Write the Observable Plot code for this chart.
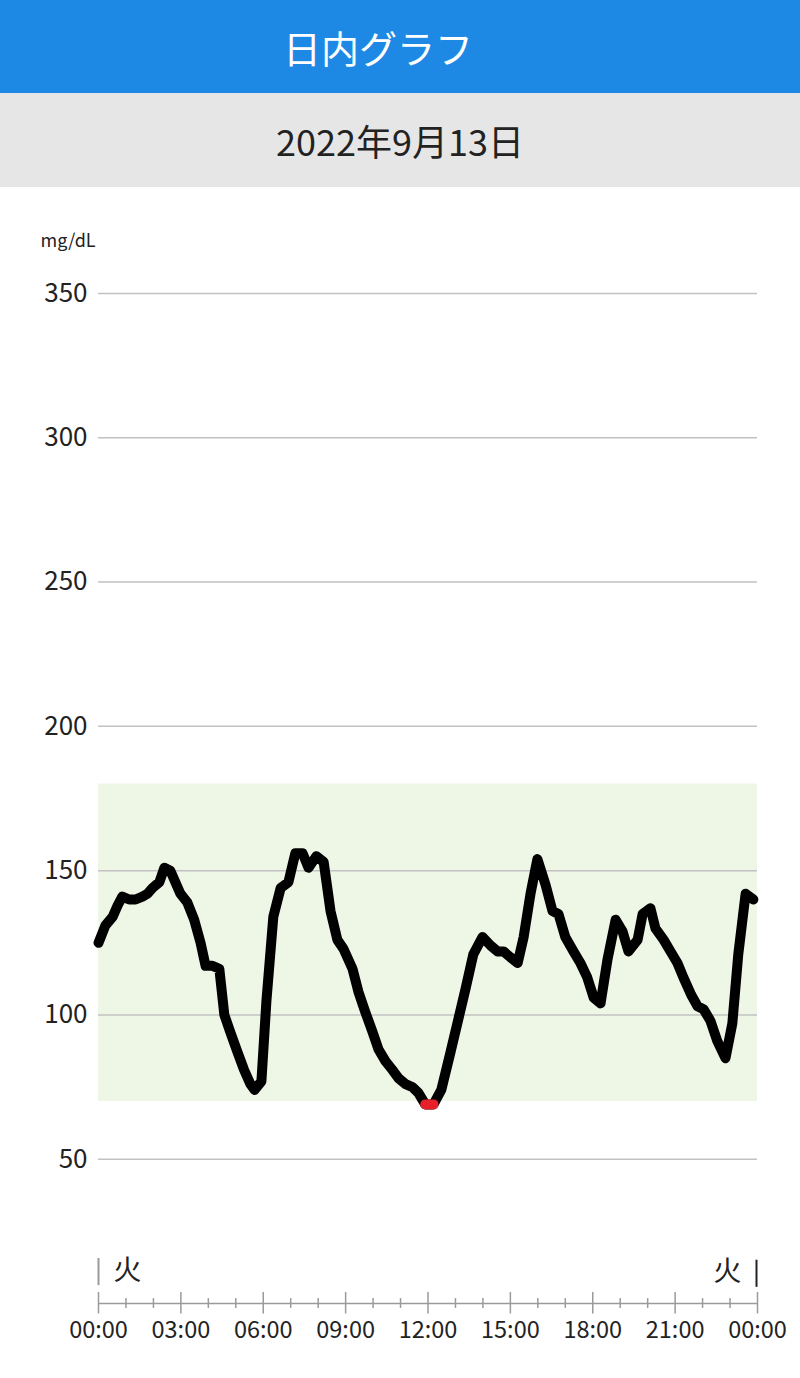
<!DOCTYPE html>
<html><head><meta charset="utf-8">
<script src="https://cdn.jsdelivr.net/npm/d3@7"></script>
<script src="https://cdn.jsdelivr.net/npm/@observablehq/plot@0.6"></script>
<style>
body{margin:0;width:800px;font-family:"Noto Sans CJK JP","Noto Sans",sans-serif;background:#fff}
.hdr{height:93px;background:#1e88e5;color:#fff;font-size:38px;display:flex;align-items:center;justify-content:center;padding-right:44px;box-sizing:border-box}
.sub{height:94px;background:#e6e6e6;color:#222;font-size:36px;display:flex;align-items:center;justify-content:center}
#chart svg{display:block}
</style></head><body>
<div class="hdr">日内グラフ</div>
<div class="sub">2022年9月13日</div>
<div id="chart"></div>
<script>
const title = "日内グラフ";
const dateLabel = "2022年9月13日";
const unitLabel = "mg/dL";
const dayLabel = "火";
// reading times (minutes after midnight)
const minutes = [0,15,31,42,52,67,81,96,107,118,
133,144,157,168,179,194,209,223,234,249,
264,275,288,304,318,332,341,356,367,382,
398,415,430,446,459,476,492,507,522,535,
555,568,583,599,612,627,642,656,671,686,
699,714,732,749,769,787,802,819,839,857,
872,885,900,916,929,944,959,977,992,1005,
1020,1038,1053,1068,1082,1097,1112,1130,1145,1158,
1178,1189,1206,1217,1235,1250,1265,1278,1295,1309,
1322,1337,1352,1370,1385,1398,1414,1431];
// glucose values (mg/dL)
const glucose = [125,131,134,138,141,140,140,141,142,144,
146,151,150,146,142,139,133,125,117,117,
116,100,94,87,81,76,74,77,105,134,
144,146,156,156,151,155,153,136,126,123,
116,108,101,94,88,84,81,78,76,75,
73,69,69,74,87,99,109,121,127,124,
122,122,120,118,127,142,154,145,136,135,
127,122,118,113,106,104,119,133,129,122,
126,135,137,130,126,122,118,113,107,103,
102,98,91,85,97,121,142,140];
const targetRange = [70, 180];
const yTicks = [50,100,150,200,250,300,350];
const majorHours = [0,3,6,9,12,15,18,21,24];
const minorHours = [1,2,4,5,7,8,10,11,13,14,16,17,19,20,22,23];

const data = minutes.map((m,i)=>({x:m/60, y:glucose[i]}));
const low = data.filter(d=>d.y < targetRange[0]);
const fmt = h => String(h%24).padStart(2,"0")+":00";
const F = '"Noto Sans CJK JP","Noto Sans",sans-serif';

const chart = Plot.plot({
  width:800, height:1191,
  marginLeft:98, marginRight:43, marginTop:106, marginBottom:75,
  style:{fontFamily:F, background:"white", overflow:"visible"},
  x:{domain:[0,24], axis:null},
  y:{domain:[0,350], axis:null},
  marks:[
    Plot.rect([targetRange], {x1:()=>0, x2:()=>24, y1:d=>d[0], y2:d=>d[1], fill:"#eef6e6"}),
    Plot.ruleY(yTicks, {y:d=>d, x1:()=>0, x2:()=>24, stroke:"#c2c2c2", strokeWidth:1.5}),
    Plot.text(yTicks, {x:()=>0, y:d=>d, text:d=>String(d), textAnchor:"end", dx:-11, fontSize:26, fill:"#222"}),
    Plot.text([unitLabel], {x:()=>0, y:()=>350, text:d=>d, textAnchor:"start", dx:-58, dy:-52, fontSize:18, fill:"#222"}),
    Plot.ruleY([0], {y:d=>d, x1:()=>0, x2:()=>24, stroke:"#9a9a9a", strokeWidth:1.5}),
    Plot.ruleX(majorHours, {x:d=>d, y1:()=>-3.6, y2:()=>3.8, stroke:"#9a9a9a", strokeWidth:1.5}),
    Plot.ruleX(minorHours, {x:d=>d, y1:()=>-1.7, y2:()=>1.7, stroke:"#9a9a9a", strokeWidth:1.5}),
    Plot.text(majorHours, {x:d=>d, y:()=>0, text:fmt, dy:27, fontSize:23.5, fill:"#222"}),
    Plot.ruleX([0], {x:d=>d, y1:()=>6.2, y2:()=>15.6, stroke:"#9a9a9a", strokeWidth:2}),
    Plot.ruleX([24], {x:d=>d, y1:()=>5.6, y2:()=>15, stroke:"#222", strokeWidth:2, dx:-1}),
    Plot.text([dayLabel], {x:()=>0, y:()=>11.4, text:d=>d, textAnchor:"start", dx:15, fontSize:28, fill:"#222"}),
    Plot.text([dayLabel], {x:()=>24, y:()=>11, text:d=>d, textAnchor:"end", dx:-16, fontSize:28, fill:"#222"}),
    Plot.line(data, {x:"x", y:"y", stroke:"#000", strokeWidth:10, strokeLinejoin:"round", strokeLinecap:"round"}),
    Plot.line(low, {x:"x", y:"y", stroke:"#e8202a", strokeWidth:10, strokeLinejoin:"round", strokeLinecap:"round"})
  ]
});
document.getElementById("chart").appendChild(chart);
</script>
</body></html>
